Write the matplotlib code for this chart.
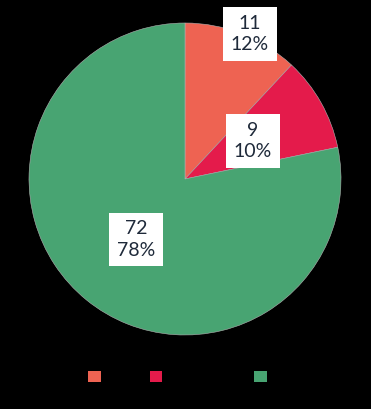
import matplotlib
matplotlib.use("Agg")
import matplotlib.pyplot as plt
from matplotlib.patches import Patch
import numpy as np

categories = ["Fail", "Borderline", "Pass"]
values = [11, 9, 72]
percents = ["12%", "10%", "78%"]
colors = ["#EE6352", "#E41B4B", "#48A472"]
label_dist = [1.0, 0.5, 0.5]

plt.rcParams['font.family'] = ['Lato', 'DejaVu Sans']
fig = plt.figure(figsize=(3.71, 4.09), dpi=100, facecolor="black")
ax = fig.add_axes([29/371, 1 - 335/409, 312/371, 312/409])
ax.set_facecolor("black")
wedges, _ = ax.pie(values, colors=colors, startangle=90, counterclock=False,
                   wedgeprops=dict(linewidth=0.4, edgecolor="#b0b0b0"))
ax.set_xlim(-1, 1)
ax.set_ylim(-1, 1)
ax.set_aspect("equal")

total = sum(values)
cum = 0
for v, p, d in zip(values, percents, label_dist):
    mid = np.deg2rad(90 - (cum + v / 2) / total * 360)
    cum += v
    ax.text(d * np.cos(mid) + (0.05 if d > 0.9 else 0), d * np.sin(mid), f"{v}\n{p}",
            ha="center", va="center",
            fontsize=14, color="#1f2a3a", linespacing=1.3,
            bbox=dict(boxstyle="square,pad=0.4", facecolor="white", edgecolor="none"))

handles = [Patch(facecolor=c, edgecolor="none") for c in colors]
leg = fig.legend(handles, categories, loc="center left",
                 bbox_to_anchor=(88/371, 1 - 377/409),
                 ncol=3, frameon=False, fontsize=10, handlelength=0.9, handleheight=0.9,
                 columnspacing=1.5, handletextpad=0.5, borderpad=0, borderaxespad=0)
for t in leg.get_texts():
    t.set_color("black")

fig.savefig("out.png", dpi=100, facecolor="black")
